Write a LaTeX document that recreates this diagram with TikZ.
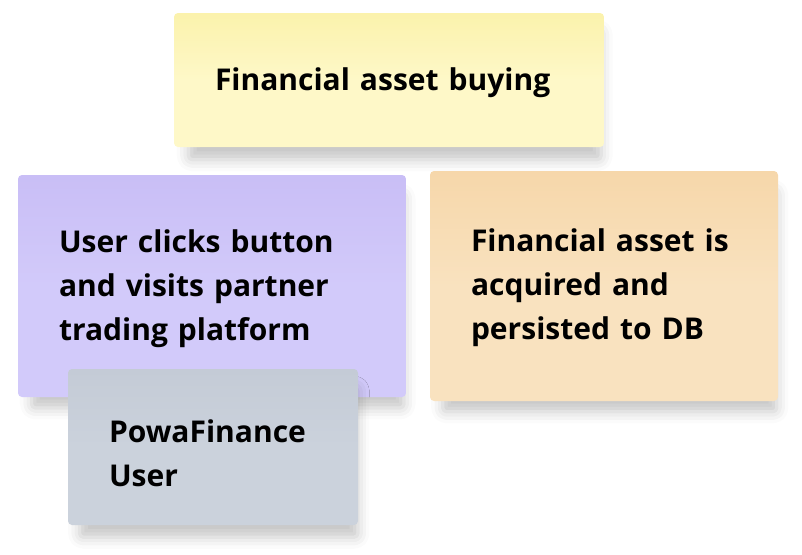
\documentclass[tikz,border=0pt]{standalone}
\usepackage{fontspec}
\setmainfont{Open Sans}
\usepackage{tikz}
\usetikzlibrary{shadows.blur}

\definecolor{noteyellow}{HTML}{FEF8C8}
\definecolor{noteyellowtop}{HTML}{FBF2AC}
\definecolor{notepurple}{HTML}{D2CAFA}
\definecolor{notepurpletop}{HTML}{C9BEF6}
\definecolor{noteorange}{HTML}{F9E2BF}
\definecolor{noteorangetop}{HTML}{F6D7AA}
\definecolor{notegray}{HTML}{CBD2DC}
\definecolor{notegraytop}{HTML}{C4CBD6}

\tikzset{
  note/.style={rectangle, rounded corners=4pt, inner xsep=41pt, inner ysep=0pt,
    align=left, font=\fontsize{30}{44}\selectfont\bfseries,
    blur shadow={shadow xshift=6pt, shadow yshift=-16pt, shadow scale=0.96,
      shadow blur radius=12pt, shadow opacity=22}},
}

\begin{document}
\begin{tikzpicture}[x=1pt,y=-1pt]
            \useasboundingbox (0,0) rectangle (802,554);
            % sticky notes
            \node [note, top color=noteyellowtop, bottom color=noteyellow, middle color=noteyellow,
              text width=348pt, minimum height=134pt] (buying) at (389,80)
              {\rule{0pt}{28pt}Financial asset buying};
            \node [note, top color=notepurpletop, bottom color=notepurple, middle color=notepurple,
              text width=306pt, minimum height=222pt] (clicks) at (212,286)
              {\rule{0pt}{28pt}User clicks button\\and visits partner\\trading platform};
            \node [note, top color=noteorangetop, bottom color=noteorange, middle color=noteorange,
              text width=266pt, minimum height=230pt] (acquired) at (604,286)
              {\rule{0pt}{27pt}Financial asset is\\acquired and\\persisted to DB};
            \node [note, top color=notegraytop, bottom color=notegray, middle color=notegray,
              text width=208pt, minimum height=156pt] (user) at (213,447)
              {\rule{0pt}{36pt}PowaFinance\\User};
        \end{tikzpicture}
\end{document}
